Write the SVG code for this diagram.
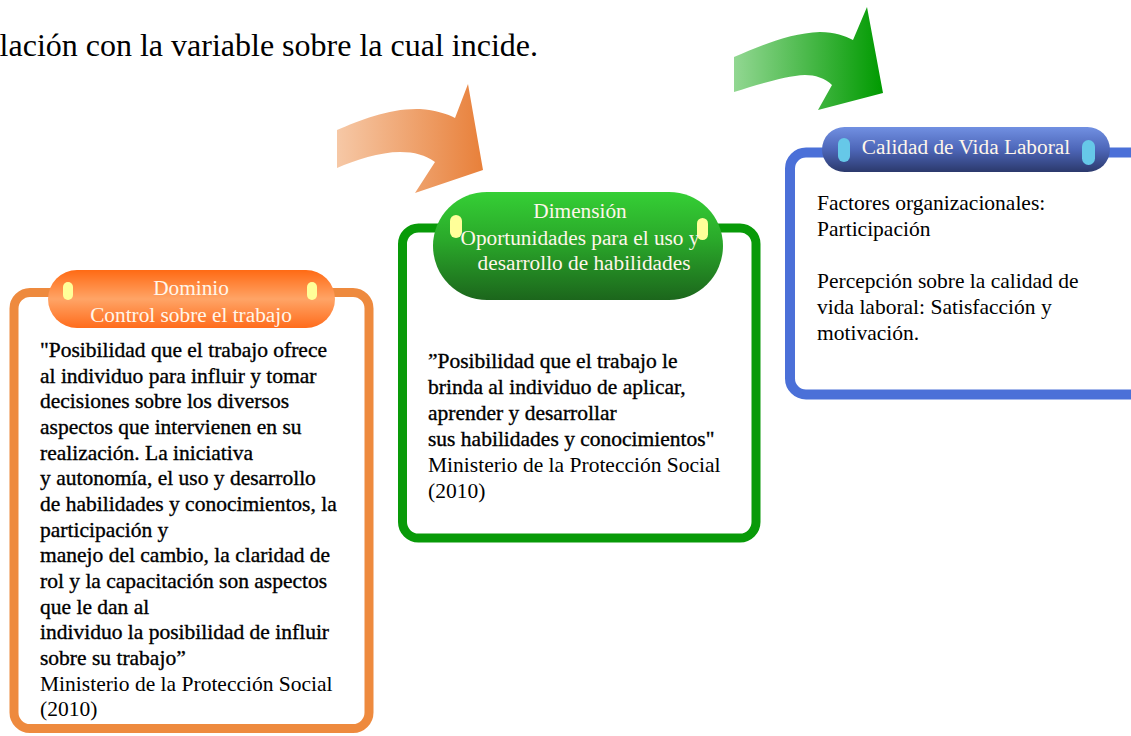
<svg xmlns="http://www.w3.org/2000/svg" width="1131" height="736" viewBox="0 0 1131 736">
<defs>
<linearGradient id="gArrO" x1="0" y1="0" x2="1" y2="0"><stop offset="0" stop-color="#f6c8a6"/><stop offset="1" stop-color="#e8803a"/></linearGradient>
<linearGradient id="gArrG" x1="0" y1="0" x2="1" y2="0"><stop offset="0" stop-color="#92d792"/><stop offset="1" stop-color="#009a00"/></linearGradient>
<linearGradient id="gPillO" x1="0" y1="0" x2="0" y2="1"><stop offset="0" stop-color="#ff6a14"/><stop offset="0.5" stop-color="#ffa466"/><stop offset="1" stop-color="#ff6c1c"/></linearGradient>
<linearGradient id="gPillG" x1="0" y1="0" x2="0" y2="1"><stop offset="0" stop-color="#35cf35"/><stop offset="0.45" stop-color="#2aa82a"/><stop offset="1" stop-color="#1c661c"/></linearGradient>
<linearGradient id="gPillB" x1="0" y1="0" x2="0" y2="1"><stop offset="0" stop-color="#7190e2"/><stop offset="0.5" stop-color="#4d66b8"/><stop offset="1" stop-color="#2b396c"/></linearGradient>
</defs>
<style>
text{font-family:"Liberation Serif","Times New Roman",serif;}
.body{font-size:21.5px;fill:#000;}
.bold{stroke:#000;stroke-width:0.35px;}
.pill{font-size:21.3px;fill:#fff6ea;text-anchor:middle;}
.box{fill:#fff;}
.ind-y{fill:#ffff99;}
.ind-c{fill:#66c8e8;}
</style>

<text x="538" y="56" text-anchor="end" style="font-size:32px;fill:#000">relación con la variable sobre la cual incide.</text>

<g id="connectors">
<path d="M337,130 C360,120 390,108 420,109 C435,110 448,114 455,118 L468,84 L483,170 L415,193 L435,162 C425,155 415,152 400,152 C380,152 355,160 337,168 Z" fill="url(#gArrO)"/>
<path d="M734,57 C760,46 790,33 820,32 C835,32 845,36 853,40 L867,7 L883,93 L818,110 L832,85 C825,78 815,75 805,75 C785,76 760,84 734,92 Z" fill="url(#gArrG)"/>
</g>

<g id="node-dominio">
<rect class="box" x="14" y="292.5" width="355" height="436" rx="16" stroke="#ee8a3e" stroke-width="9"/>
<rect x="48" y="270" width="287" height="58" rx="29" fill="url(#gPillO)"/>
<rect class="ind-y" x="63" y="282" width="10" height="18" rx="5"/>
<rect class="ind-y" x="307" y="282" width="10" height="18" rx="5"/>
<text class="pill" x="191" y="295">Dominio</text>
<text class="pill" x="191" y="322">Control sobre el trabajo</text>
<text class="body bold" x="40" y="357">"Posibilidad que el trabajo ofrece</text>
<text class="body bold" x="40" y="382.6">al individuo para influir y tomar</text>
<text class="body bold" x="40" y="408.3">decisiones sobre los diversos</text>
<text class="body bold" x="40" y="434">aspectos que intervienen en su</text>
<text class="body bold" x="40" y="459.6">realización. La iniciativa</text>
<text class="body bold" x="40" y="485.3">y autonomía, el uso y desarrollo</text>
<text class="body bold" x="40" y="510.9">de habilidades y conocimientos, la</text>
<text class="body bold" x="40" y="536.6">participación y</text>
<text class="body bold" x="40" y="562.2">manejo del cambio, la claridad de</text>
<text class="body bold" x="40" y="587.9">rol y la capacitación son aspectos</text>
<text class="body bold" x="40" y="613.5">que le dan al</text>
<text class="body bold" x="40" y="639.2">individuo la posibilidad de influir</text>
<text class="body bold" x="40" y="664.8">sobre su trabajo”</text>
<text class="body" x="40" y="690.5">Ministerio de la Protección Social</text>
<text class="body" x="40" y="716.1">(2010)</text>
</g>

<g id="node-dimension">
<rect class="box" x="402.5" y="228" width="353.5" height="310" rx="16" stroke="#089a08" stroke-width="9"/>
<rect x="433" y="192" width="290" height="108" rx="54" fill="url(#gPillG)"/>
<rect class="ind-y" x="450" y="215" width="12" height="23" rx="6"/>
<rect class="ind-y" x="697" y="218" width="11" height="22" rx="5.5"/>
<text class="pill" x="580" y="218">Dimensión</text>
<text class="pill" x="580" y="245">Oportunidades para el uso y</text>
<text class="pill" x="584" y="270">desarrollo de habilidades</text>
<text class="body bold" x="428" y="368">”Posibilidad que el trabajo le</text>
<text class="body bold" x="428" y="394">brinda al individuo de aplicar,</text>
<text class="body bold" x="428" y="420">aprender y desarrollar</text>
<text class="body bold" x="428" y="446">sus habilidades y conocimientos"</text>
<text class="body" x="428" y="472">Ministerio de la Protección Social</text>
<text class="body" x="428" y="498">(2010)</text>
</g>

<g id="node-calidad">
<rect class="box" x="790" y="152.5" width="420" height="242" rx="16" stroke="#4b70d8" stroke-width="10"/>
<rect x="822" y="127" width="288" height="45" rx="22.5" fill="url(#gPillB)"/>
<rect class="ind-c" x="838" y="138" width="12" height="24" rx="6"/>
<rect class="ind-c" x="1082" y="140" width="13" height="25" rx="6.5"/>
<text class="pill" x="966" y="154">Calidad de Vida Laboral</text>
<text class="body" x="817" y="210">Factores organizacionales:</text>
<text class="body" x="817" y="236">Participación</text>
<text class="body" x="817" y="288">Percepción sobre la calidad de</text>
<text class="body" x="817" y="314">vida laboral: Satisfacción y</text>
<text class="body" x="817" y="340">motivación.</text>
</g>
</svg>
